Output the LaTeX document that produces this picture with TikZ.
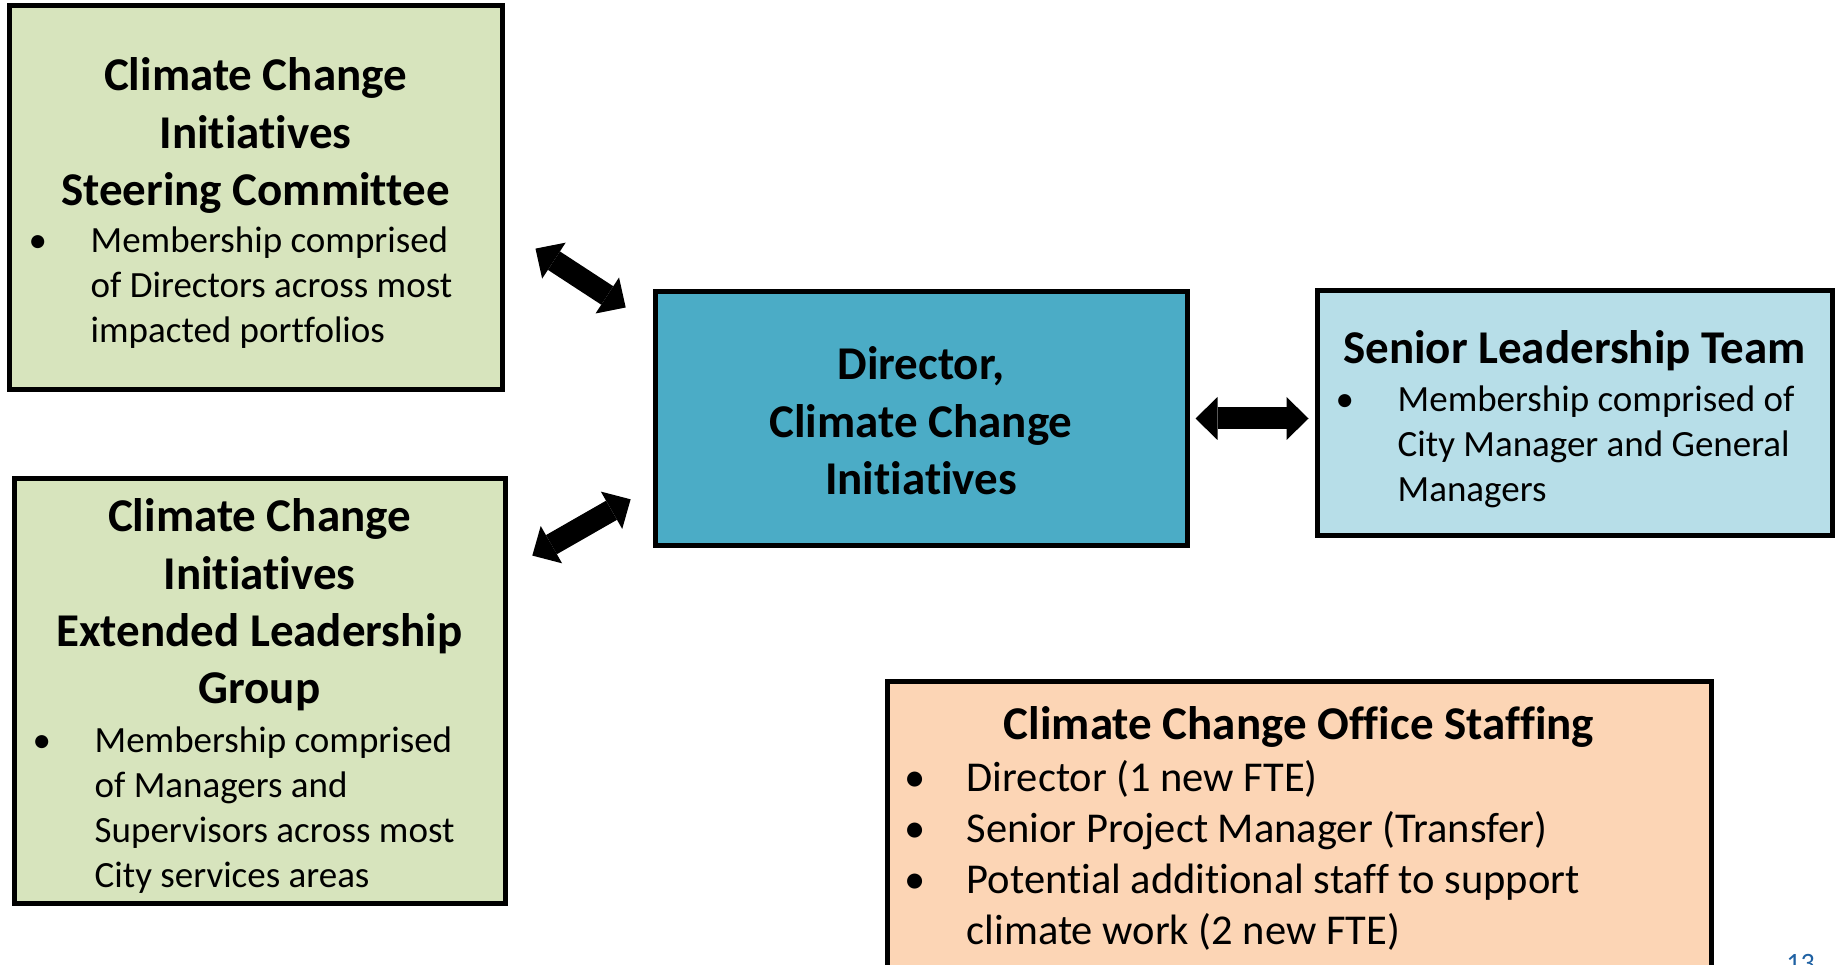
\documentclass[tikz,border=0pt]{standalone}
\usepackage{fontspec}
\setmainfont{Carlito}[Ligatures=NoCommon]
\usetikzlibrary{positioning,calc,arrows.meta}

\definecolor{sagegreen}{RGB}{215,228,189}
\definecolor{tealblue}{RGB}{75,172,198}
\definecolor{paleblue}{RGB}{183,222,232}
\definecolor{peach}{RGB}{252,213,181}
\definecolor{pageblue}{RGB}{31,97,163}

\newcommand{\ttlsize}{\fontsize{47}{57.4}\selectfont\bfseries}
\newcommand{\bodysize}{\fontsize{37}{45}\selectfont}
\newcommand{\staffsize}{\fontsize{42.5}{51}\selectfont}
\newcommand{\itembul}{\makebox[62pt][l]{\textbullet}}
\newcommand{\itemind}{\hspace*{62pt}}

\begin{document}
\begin{tikzpicture}[x=1pt, y=-1pt,
    box/.style={draw=black, line width=5pt, inner sep=0pt},
    ttl/.style={font=\ttlsize, align=center, inner sep=0pt},
    lst/.style={font=\bodysize, align=left, inner sep=0pt},
    dblarr/.style={line width=22pt,
      {Triangle[width=43pt,length=22pt,line width=0pt]}-{Triangle[width=43pt,length=22pt,line width=0pt]}}]
  \useasboundingbox (0,0) rectangle (1837,965);

  % Boxes
  \node[box, fill=sagegreen, minimum width=493pt, minimum height=384pt] (steer) at (255.5,198) {};
  \node[box, fill=sagegreen, minimum width=491pt, minimum height=425pt] (ext) at (259.5,690.5) {};
  \node[box, fill=tealblue, minimum width=532pt, minimum height=253pt] (dir) at (921,418.5) {};
  \node[box, fill=paleblue, minimum width=515pt, minimum height=244pt] (slt) at (1574.5,413) {};
  \node[box, fill=peach, minimum width=824pt, minimum height=304pt] (staff) at (1299,833) {};

  % Titles
  \node[ttl, below=54pt of steer.north] (steer-ttl) {Climate Change\\Initiatives\\Steering Committee};
  \node[ttl, below=23pt of ext.north] (ext-ttl) {Climate Change\\Initiatives\\Extended Leadership\\Group};
  \node[ttl, below=57pt of dir.north] (dir-ttl) {Director,\\Climate Change\\Initiatives};
  \node[ttl, below=42pt of slt.north] (slt-ttl) {Senior Leadership Team};
  \node[ttl, below=28pt of staff.north] (staff-ttl) {Climate Change Office Staffing};

  % Bullet lists
  \node[lst, below right=223pt and 22pt of steer.north west] (steer-lst)
    {\itembul Membership comprised\\\itemind of Directors across most\\\itemind impacted portfolios};
  \node[lst, below right=251pt and 21pt of ext.north west] (ext-lst)
    {\itembul Membership comprised\\\itemind of Managers and\\\itemind Supervisors across most\\\itemind City services areas};
  \node[lst, below right=97pt and 21pt of slt.north west] (slt-lst)
    {\itembul Membership comprised of\\\itemind City Manager and General\\\itemind Managers};
  \node[lst, font=\staffsize, below right=82pt and 20pt of staff.north west] (staff-lst)
    {\itembul Director (1 new FTE)\\\itembul Senior Project Manager (Transfer)\\\itembul Potential additional staff to support\\\itemind climate work (2 new FTE)};

  % Arrows
  \draw[dblarr, shorten <=37pt, shorten >=32pt] ($(steer.east)+(0,30.4)$) -- ($(dir.west)+(0,-93.5)$);
  \draw[dblarr, shorten <=28.6pt, shorten >=25.2pt] ($(ext.east)+(0,-120.7)$) -- ($(dir.west)+(0,68.3)$);
  \draw[dblarr, shorten <=6pt, shorten >=6pt] (dir.east) -- (dir.east -| slt.west);

  % Page number
  \node[font=\fontsize{28}{34}\selectfont, text=pageblue, anchor=base east, inner sep=0pt] (pgno) at (1815,972) {13};
\end{tikzpicture}
\end{document}
